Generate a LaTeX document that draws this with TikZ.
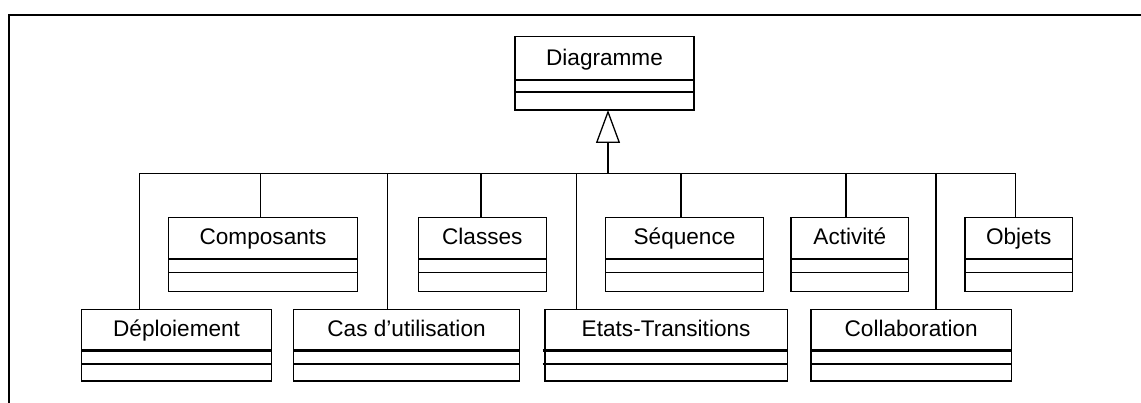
\documentclass[tikz,border=0pt]{standalone}
\usepackage{fontspec}
\setmainfont{Liberation Sans}
\usetikzlibrary{arrows.meta}
\tikzset{
  boxframe/.style={draw, line width=1.3pt, inner sep=0pt, outer sep=0pt, anchor=north west},
  lbl/.style={anchor=base, inner sep=0pt, font=\fontsize{22.6}{27}\selectfont},
  thindiv/.style={line width=1.3pt},
  thickdiv/.style={line width=2.6pt},
  wire/.style={line width=1.3pt},
  framel/.style={line width=2pt},
  gen/.style={-{Triangle[open,length=33pt,width=24pt,line width=1.3pt]}},
}
\newcommand\umlbox[9]{%
  \pgfmathsetmacro\umlW{#3-#2}%
  \pgfmathsetmacro\umlH{#7-#4}%
  \node[boxframe, minimum width=\umlW pt, minimum height=\umlH pt] (#1) at (#2,#4) {};
  \node[lbl] (#1-t) at ({(#2+#3)/2},{#5-14}) {#8};
  \draw[#9] (#2,#5) -- (#3,#5);
  \draw[#9] (#2,#6) -- (#3,#6);
}
\begin{document}
\begin{tikzpicture}[x=1pt,y=-1pt]
\useasboundingbox (0,0) rectangle (1141,403);
\fill[white] (0,0) rectangle (1141,403);
% frame
\draw[framel] (9,410) -- (9,15) -- (1150,15);
% superclass
\umlbox{diag}{515}{694}{36.7}{80}{92}{110}{Diagramme}{thindiv}
% upper row
\umlbox{comp}{168.3}{357.8}{217.3}{259}{272.7}{291.7}{Composants}{thindiv}
\umlbox{clas}{418.3}{546.3}{217.3}{259}{272.7}{291.7}{Classes}{thindiv}
\umlbox{seq}{605.7}{763.4}{217.3}{259}{272.7}{291.7}{Séquence}{thindiv}
\umlbox{act}{791}{908.7}{217.3}{259}{272.7}{291.7}{Activité}{thindiv}
\umlbox{obj}{965}{1072.4}{217.3}{259}{272.7}{291.7}{Objets}{thindiv}
% lower row
\umlbox{dep}{81.5}{271.7}{309.3}{350.7}{364}{381}{Déploiement}{thickdiv}
\umlbox{cas}{293.4}{519.7}{309.3}{350.7}{364}{381}{Cas d’utilisation}{thickdiv}
\umlbox{et}{545}{787.2}{309.3}{350.7}{364}{381}{Etats-Transitions}{thickdiv}
\umlbox{col}{811}{1011.4}{309.3}{350.7}{364}{381}{Collaboration}{thickdiv}
\draw[thickdiv] (542.6,350.7) -- (545,350.7);
\draw[thickdiv] (542.6,364) -- (545,364);
% bus coordinates
\coordinate (b-dep) at (139.3,173.3);
\coordinate (b-comp) at (260.7,173.3);
\coordinate (b-cas) at (387.3,173.3);
\coordinate (b-clas) at (481,173.3);
\coordinate (b-et) at (576.7,173.3);
\coordinate (stem) at (608,173.3);
\coordinate (b-seq) at (681,173.3);
\coordinate (b-act) at (846,173.3);
\coordinate (b-col) at (936,173.3);
\coordinate (b-obj) at (1015.3,173.3);
\draw[wire] (b-dep) -- (b-obj);
\foreach \n in {dep,comp,cas,clas,et,seq,act,col,obj}
  \draw[wire] (b-\n) -- (b-\n |- \n.north);
\draw[wire,gen] (stem) -- (stem |- diag.south);
\end{tikzpicture}
\end{document}
